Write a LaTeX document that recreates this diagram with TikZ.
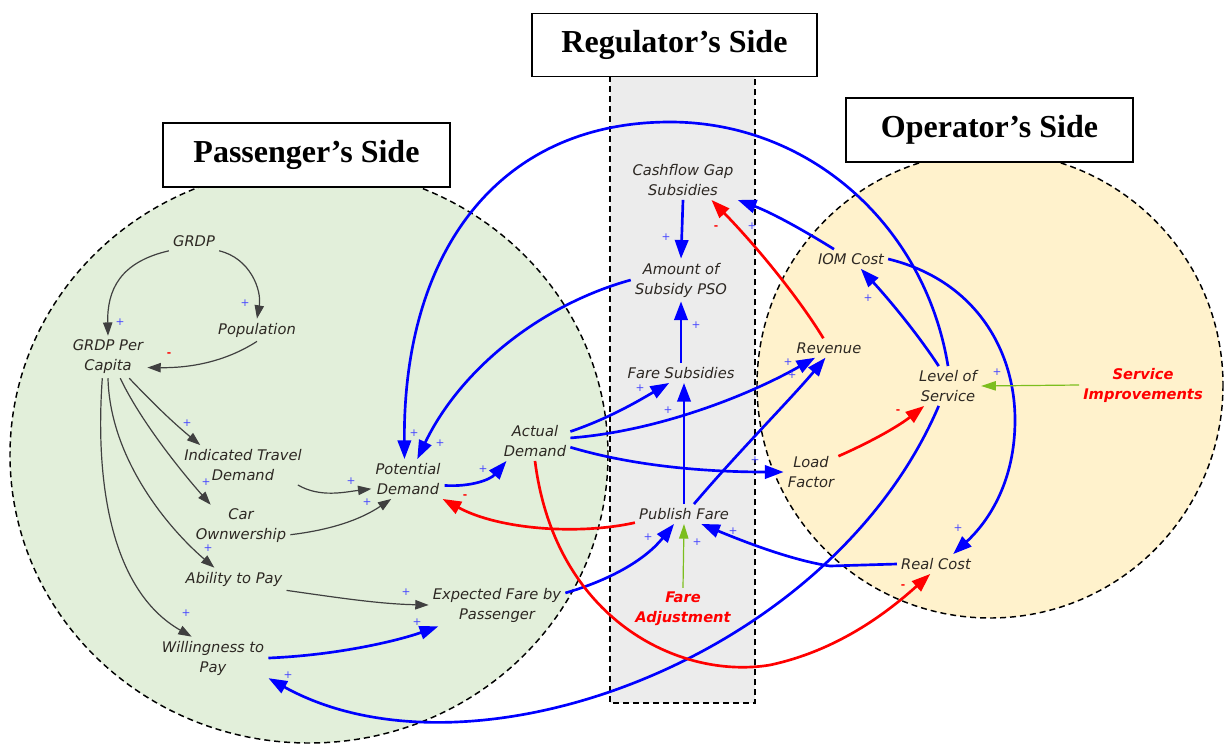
\documentclass[tikz,border=0pt]{standalone}
\usepackage{fontspec}
\setmainfont{Liberation Serif}
\newfontfamily\sdfont{DejaVu Sans}
\usetikzlibrary{arrows.meta}

\definecolor{passfill}{RGB}{226,239,218}
\definecolor{operfill}{RGB}{255,242,204}
\definecolor{regfill}{RGB}{236,236,236}
\definecolor{linkblue}{RGB}{0,0,255}
\definecolor{linkred}{RGB}{255,0,0}
\definecolor{linkgreen}{RGB}{124,190,30}
\definecolor{signblue}{RGB}{70,70,255}
\definecolor{labelgray}{RGB}{45,40,35}

\begin{document}
\begin{tikzpicture}[
  x=0.75pt,y=-0.75pt,
  var/.style={font=\sdfont\itshape\fontsize{11}{15}\selectfont,text=labelgray,align=center,inner sep=3pt},
  ctrl/.style={var,font=\sdfont\bfseries\itshape\fontsize{11}{15}\selectfont,text=linkred},
  titlebox/.style={draw,line width=1.1pt,fill=white,font=\bfseries\fontsize{24}{28}\selectfont,minimum width=214pt,minimum height=47pt},
  zone/.style={line width=1.1pt,dash pattern=on 4.5pt off 3pt},
  blk/.style={-{Triangle[length=10pt,width=7pt]},line width=0.9pt,draw=black!75},
  blu/.style={-{Triangle[length=14pt,width=10pt]},line width=2pt,draw=linkblue},
  rd/.style={-{Triangle[length=14pt,width=10pt]},line width=2pt,draw=linkred},
  grn/.style={-{Triangle[length=11pt,width=7pt]},line width=0.9pt,draw=linkgreen},
  pluslab/.style={font=\sdfont\fontsize{8}{8}\selectfont,text=signblue,inner sep=0pt},
  minuslab/.style={font=\sdfont\bfseries\fontsize{8}{8}\selectfont,text=linkred,inner sep=0pt}
]
\useasboundingbox (0,0) rectangle (1225,743);

\draw[zone,fill=passfill] (309,455) ellipse [x radius=299, y radius=288];
\draw[zone,fill=operfill] (990,385) circle [radius=233];
\draw[zone,fill=regfill] (610,76) rectangle (755,703);

\node[titlebox] (regt) at (674.5,45) {Regulator’s Side};
\node[titlebox,minimum width=215pt,minimum height=48pt] (passt) at (306.5,155) {Passenger’s Side};
\node[titlebox,minimum width=215pt,minimum height=48pt] (opert) at (989.5,130) {Operator’s Side};

\node[var] (grdp) at (194,241) {GRDP};
\node[var] (pop) at (257,330) {Population};
\node[var] (gpc) at (108,357) {GRDP Per\\Capita};
\node[var] (itd) at (243,465) {Indicated Travel\\Demand};
\node[var] (car) at (241,526) {Car\\Ownwership};
\node[var] (atp) at (234,579) {Ability to Pay};
\node[var] (wtp) at (213,658) {Willingness to\\Pay};
\node[var] (pd) at (408,479) {Potential\\Demand};
\node[var] (ad) at (535,441) {Actual\\Demand};
\node[var] (efp) at (497,605) {Expected Fare by\\Passenger};

\node[var] (cgs) at (683,180) {Cashflow Gap\\Subsidies};
\node[var] (asp) at (681,280) {Amount of\\Subsidy PSO};
\node[var] (fs) at (681,373) {Fare Subsidies};
\node[var] (pf) at (684,514) {Publish Fare};
\node[ctrl] (fa) at (683,609) {Fare\\Adjustment};

\node[var] (iom) at (851,259) {IOM Cost};
\node[var] (rev) at (829,348) {Revenue};
\node[var] (los) at (948,386) {Level of\\Service};
\node[var] (lf) at (811,472) {Load\\Factor};
\node[var] (rc) at (936,564) {Real Cost};
\node[ctrl] (si) at (1143,385) {Service\\Improvements};

\draw[blk] (grdp.south west) .. controls (120,262) and (107,290) .. (gpc.north);
\draw[blk] (grdp.south east) .. controls (250,258) and (262,290) .. (pop.north);
\draw[blk] (pop.south) .. controls (225,362) and (190,368) .. (gpc.-15);
\draw[blk] (gpc.-45) .. controls (150,400) and (170,420) .. (itd.155);
\draw[blk] (gpc.-60) .. controls (140,420) and (180,470) .. (car.145);
\draw[blk] (gpc.-90) .. controls (110,460) and (170,530) .. (atp.150);
\draw[blk] (gpc.-105) .. controls (95,480) and (110,590) .. (wtp.135);
\draw[blk] (itd.-20) .. controls (320,498) and (345,492) .. (pd.195);
\draw[blk] (car.-10) .. controls (330,530) and (360,520) .. (pd.230);
\draw[blk] (atp.south east) .. controls (340,598) and (380,604) .. (efp.west);

\draw[blu] (wtp.east) .. controls (340,655) and (400,640) .. (efp.200);
\draw[blu] (los.-115) .. controls (830,660) and (470,790) .. (wtp.-20);
\draw[blu] (los.north) .. controls (925,225) and (809,122) .. (670,122)
  .. controls (500,122) and (403,250) .. (pd.100);
\draw[blu] (asp.west) .. controls (540,305) and (460,370) .. (pd.65);
\draw[blu] (los.115) .. controls (915,330) and (885,295) .. (iom.-45);
\draw[blu] (iom.150) .. controls (800,228) and (770,212) .. (cgs.south east);
\draw[blu] (iom.east) .. controls (975,280) and (1015,350) .. (1015,420)
  .. controls (1015,480) and (990,520) .. (rc.30);
\draw[blu] (ad.15) .. controls (610,418) and (640,400) .. (fs.-140);
\draw[blu] (ad.5) .. controls (650,432) and (740,400) .. (rev.-145);
\draw[blu] (ad.-10) .. controls (630,465) and (700,472) .. (lf.west);
\draw[blu] (pf.north) -- (pf.north |- fs.south);
\draw[blu] (pf.45) .. controls (740,450) and (790,400) .. (rev.-110);
\draw[blu] (fs.north) -- (asp.south);
\draw[blu] (cgs.south) -- (asp.north);
\draw[blu] (pd.-10) .. controls (470,487) and (490,480) .. (ad.215);
\draw[blu] (efp.10) .. controls (610,580) and (645,560) .. (pf.-135);
\draw[blu] (rc.west) -- (830,566) .. controls (790,560) and (740,540) .. (pf.-30);

\draw[rd] (ad.south) .. controls (555,620) and (680,680) .. (770,665)
  .. controls (840,650) and (890,610) .. (rc.-120);
\draw[rd] (pf.190) .. controls (580,535) and (500,530) .. (pd.-30);
\draw[rd] (rev.120) .. controls (800,300) and (760,250) .. (cgs.-35);
\draw[rd] (lf.30) .. controls (875,440) and (900,425) .. (los.-140);

\draw[grn] (fa.north) -- (pf.south);
\draw[grn] (si.west) -- (los.east);

\foreach \px/\py [count=\i] in {120/322,245/303,187/423,206/482,208/548,186/613,351/481,
  367/502,406/592,417/622,288/675,414/433,440/443,868/298,752/226,958/528,640/388,
  788/362,792/375,668/410,696/325,666/237,483/469,648/537,733/531,697/542,997/372,755/460}
  \node[pluslab] (plus\i) at (\px,\py) {+};
\foreach \px/\py [count=\i] in {169/355,465/497,903/587,716/228,898/412}
  \node[minuslab] (minus\i) at (\px,\py) {-};
\end{tikzpicture}
\end{document}
